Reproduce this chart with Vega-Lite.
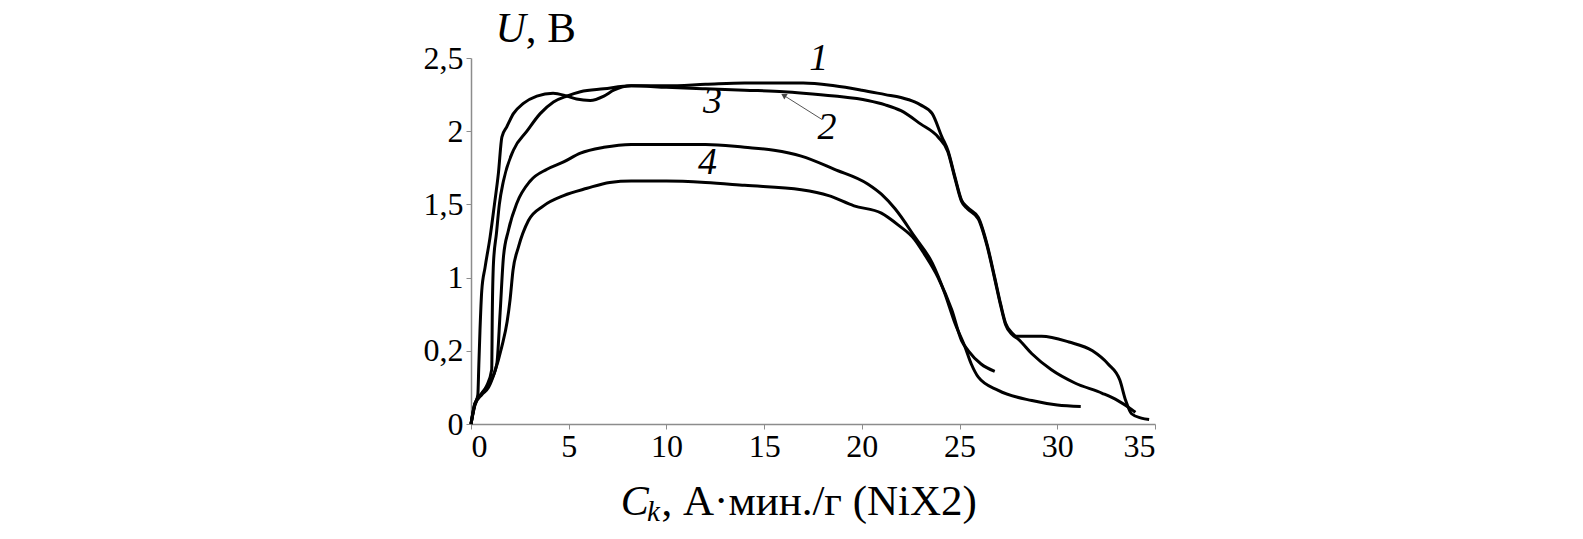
{
  "$schema": "https://vega.github.io/schema/vega-lite/v6.json",
  "autosize": "none",
  "width": 684,
  "height": 366,
  "padding": {"left": 471, "top": 58, "right": 428, "bottom": 115},
  "background": "white",
  "config": {"view": {"stroke": null}, "font": "Liberation Serif"},
  "datasets": {
    "curves": [
      {"c":"1","x":0,"y":0},{"c":"1","x":0.2,"y":0.13},{"c":"1","x":0.35,"y":0.2},{"c":"1","x":0.4,"y":0.4},{"c":"1","x":0.46,"y":0.64},{"c":"1","x":0.55,"y":0.91},{"c":"1","x":0.72,"y":1.07},{"c":"1","x":0.98,"y":1.28},{"c":"1","x":1.2,"y":1.5},{"c":"1","x":1.4,"y":1.71},{"c":"1","x":1.58,"y":1.96},{"c":"1","x":1.83,"y":2.03},{"c":"1","x":2.17,"y":2.12},{"c":"1","x":2.68,"y":2.19},{"c":"1","x":3.37,"y":2.24},{"c":"1","x":4.2,"y":2.26},{"c":"1","x":4.9,"y":2.24},{"c":"1","x":5.4,"y":2.22},{"c":"1","x":6.1,"y":2.21},{"c":"1","x":6.8,"y":2.24},{"c":"1","x":7.3,"y":2.28},{"c":"1","x":8.2,"y":2.31},{"c":"1","x":10,"y":2.31},{"c":"1","x":12,"y":2.32},{"c":"1","x":14,"y":2.33},{"c":"1","x":17,"y":2.33},{"c":"1","x":18.6,"y":2.31},{"c":"1","x":20,"y":2.28},{"c":"1","x":21.2,"y":2.25},{"c":"1","x":22,"y":2.23},{"c":"1","x":22.7,"y":2.2},{"c":"1","x":23.0,"y":2.18},{"c":"1","x":23.6,"y":2.12},{"c":"1","x":24.1,"y":1.96},{"c":"1","x":24.4,"y":1.87},{"c":"1","x":24.76,"y":1.69},{"c":"1","x":25.1,"y":1.53},{"c":"1","x":25.4,"y":1.48},{"c":"1","x":25.96,"y":1.41},{"c":"1","x":26.4,"y":1.23},{"c":"1","x":26.8,"y":1.0},{"c":"1","x":27.1,"y":0.82},{"c":"1","x":27.35,"y":0.69},{"c":"1","x":27.7,"y":0.62},{"c":"1","x":27.9,"y":0.6},{"c":"1","x":29.2,"y":0.6},{"c":"1","x":30.6,"y":0.56},{"c":"1","x":31.8,"y":0.5},{"c":"1","x":32.6,"y":0.41},{"c":"1","x":33.2,"y":0.3},{"c":"1","x":33.5,"y":0.16},{"c":"1","x":33.8,"y":0.07},{"c":"1","x":34.3,"y":0.04},{"c":"1","x":34.7,"y":0.03},
      {"c":"2","x":0,"y":0},{"c":"2","x":0.2,"y":0.14},{"c":"2","x":0.5,"y":0.2},{"c":"2","x":0.8,"y":0.26},{"c":"2","x":1.06,"y":0.37},{"c":"2","x":1.09,"y":0.76},{"c":"2","x":1.15,"y":1.1},{"c":"2","x":1.3,"y":1.3},{"c":"2","x":1.45,"y":1.5},{"c":"2","x":1.66,"y":1.66},{"c":"2","x":2.17,"y":1.87},{"c":"2","x":2.86,"y":2.0},{"c":"2","x":3.54,"y":2.12},{"c":"2","x":4.22,"y":2.2},{"c":"2","x":4.9,"y":2.24},{"c":"2","x":5.6,"y":2.27},{"c":"2","x":6.8,"y":2.29},{"c":"2","x":8.2,"y":2.31},{"c":"2","x":10,"y":2.3},{"c":"2","x":12,"y":2.29},{"c":"2","x":14,"y":2.28},{"c":"2","x":16,"y":2.27},{"c":"2","x":17,"y":2.26},{"c":"2","x":18.6,"y":2.24},{"c":"2","x":20.3,"y":2.21},{"c":"2","x":21.2,"y":2.18},{"c":"2","x":22,"y":2.14},{"c":"2","x":23,"y":2.05},{"c":"2","x":23.9,"y":1.96},{"c":"2","x":24.4,"y":1.86},{"c":"2","x":24.76,"y":1.68},{"c":"2","x":25.1,"y":1.52},{"c":"2","x":25.4,"y":1.47},{"c":"2","x":25.96,"y":1.4},{"c":"2","x":26.4,"y":1.22},{"c":"2","x":26.8,"y":0.99},{"c":"2","x":27.1,"y":0.81},{"c":"2","x":27.35,"y":0.68},{"c":"2","x":27.7,"y":0.61},{"c":"2","x":28.0,"y":0.58},{"c":"2","x":28.7,"y":0.48},{"c":"2","x":29.7,"y":0.37},{"c":"2","x":30.9,"y":0.28},{"c":"2","x":32.3,"y":0.21},{"c":"2","x":33.1,"y":0.16},{"c":"2","x":33.8,"y":0.1},{"c":"2","x":34.0,"y":0.08},
      {"c":"3","x":0,"y":0},{"c":"3","x":0.2,"y":0.14},{"c":"3","x":0.55,"y":0.21},{"c":"3","x":0.9,"y":0.27},{"c":"3","x":1.32,"y":0.41},{"c":"3","x":1.49,"y":0.76},{"c":"3","x":1.66,"y":1.14},{"c":"3","x":1.91,"y":1.32},{"c":"3","x":2.35,"y":1.51},{"c":"3","x":3.03,"y":1.66},{"c":"3","x":3.89,"y":1.74},{"c":"3","x":4.74,"y":1.79},{"c":"3","x":5.6,"y":1.85},{"c":"3","x":6.8,"y":1.89},{"c":"3","x":8.2,"y":1.91},{"c":"3","x":10,"y":1.91},{"c":"3","x":12,"y":1.91},{"c":"3","x":14,"y":1.89},{"c":"3","x":15.5,"y":1.87},{"c":"3","x":16.9,"y":1.83},{"c":"3","x":18.6,"y":1.74},{"c":"3","x":20.3,"y":1.64},{"c":"3","x":21.0,"y":1.57},{"c":"3","x":21.7,"y":1.47},{"c":"3","x":22.7,"y":1.28},{"c":"3","x":23.6,"y":1.1},{"c":"3","x":24.25,"y":0.89},{"c":"3","x":24.76,"y":0.69},{"c":"3","x":25.27,"y":0.53},{"c":"3","x":25.6,"y":0.41},{"c":"3","x":25.96,"y":0.32},{"c":"3","x":26.98,"y":0.23},{"c":"3","x":28.7,"y":0.16},{"c":"3","x":30,"y":0.13},{"c":"3","x":31.2,"y":0.12},
      {"c":"4","x":0,"y":0},{"c":"4","x":0.2,"y":0.13},{"c":"4","x":0.55,"y":0.2},{"c":"4","x":0.9,"y":0.25},{"c":"4","x":1.2,"y":0.35},{"c":"4","x":1.58,"y":0.53},{"c":"4","x":1.85,"y":0.7},{"c":"4","x":2.0,"y":0.85},{"c":"4","x":2.15,"y":1.05},{"c":"4","x":2.43,"y":1.21},{"c":"4","x":2.94,"y":1.39},{"c":"4","x":3.71,"y":1.49},{"c":"4","x":4.74,"y":1.56},{"c":"4","x":5.94,"y":1.61},{"c":"4","x":7.1,"y":1.65},{"c":"4","x":8.2,"y":1.66},{"c":"4","x":10,"y":1.66},{"c":"4","x":12,"y":1.65},{"c":"4","x":14,"y":1.63},{"c":"4","x":16.9,"y":1.6},{"c":"4","x":18.3,"y":1.56},{"c":"4","x":19.6,"y":1.49},{"c":"4","x":21.0,"y":1.44},{"c":"4","x":21.85,"y":1.36},{"c":"4","x":22.7,"y":1.26},{"c":"4","x":23.2,"y":1.16},{"c":"4","x":23.9,"y":1.0},{"c":"4","x":24.6,"y":0.78},{"c":"4","x":25.1,"y":0.57},{"c":"4","x":25.45,"y":0.5},{"c":"4","x":26.1,"y":0.41},{"c":"4","x":26.8,"y":0.36}
    ],
    "italicLabels": [
      {"t":"1","x":17.8,"y":2.49},
      {"t":"2","x":18.22,"y":2.02},
      {"t":"3","x":12.36,"y":2.2},
      {"t":"4","x":12.1,"y":1.78}
    ],
    "titleItalic": [
      {"t":"U","x":2.8,"y":2.7},
      {"t":"C","x":9.1,"y":-0.53}
    ],
    "titleUpright": [
      {"t":", В","x":2.8,"y":2.7},
      {"t":", А·мин./г (NiX2)","x":9.75,"y":-0.53}
    ],
    "titleSub": [
      {"t":"k","x":9.0,"y":-0.6}
    ],
    "arrow": [
      {"x":17.96,"y":2.08,"x2":16.0,"y2":2.245}
    ]
  },
  "layer": [
    {
      "data": {"name": "curves"},
      "mark": {"type": "line", "color": "black", "strokeWidth": 3, "clip": false, "interpolate": "monotone"},
      "encoding": {
        "x": {"field": "x", "type": "quantitative", "scale": {"domain": [0, 35], "nice": false},
          "axis": {"values": [0,5,10,15,20,25,30,35], "title": null, "grid": false, "domainColor": "#8c8c8c", "tickColor": "#8c8c8c", "tickSize": 5, "labelFontSize": 32, "labelColor": "black", "labelFont": "Liberation Serif", "labelPadding": 2, "domainWidth": 1.5}},
        "y": {"field": "y", "type": "quantitative", "scale": {"domain": [0, 2.5], "nice": false},
          "axis": {"values": [0,0.5,1,1.5,2,2.5], "title": null, "grid": false, "domainColor": "#8c8c8c", "tickColor": "#8c8c8c", "tickSize": 5, "labelFontSize": 32, "labelColor": "black", "labelFont": "Liberation Serif", "labelPadding": 3, "domainWidth": 1.5,
            "labelExpr": "datum.value == 0.5 ? '0,2' : replace(toString(datum.value), '.', ',')"}},
        "detail": {"field": "c"},
        "order": {"value": null}
      }
    },
    {
      "data": {"name": "arrow"},
      "mark": {"type": "rule", "color": "#555", "strokeWidth": 1},
      "encoding": {
        "x": {"field": "x", "type": "quantitative"},
        "y": {"field": "y", "type": "quantitative"},
        "x2": {"field": "x2"},
        "y2": {"field": "y2"}
      }
    },
    {
      "data": {"name": "arrow"},
      "mark": {"type": "point", "shape": "triangle-up", "angle": 302, "size": 40, "filled": true, "color": "#444", "opacity": 1},
      "encoding": {
        "x": {"field": "x2", "type": "quantitative"},
        "y": {"field": "y2", "type": "quantitative"}
      }
    },
    {
      "data": {"name": "italicLabels"},
      "mark": {"type": "text", "font": "Liberation Serif", "fontStyle": "italic", "fontSize": 38, "color": "black", "baseline": "middle", "align": "center"},
      "encoding": {
        "x": {"field": "x", "type": "quantitative"},
        "y": {"field": "y", "type": "quantitative"},
        "text": {"field": "t"}
      }
    },
    {
      "data": {"name": "titleItalic"},
      "mark": {"type": "text", "font": "Liberation Serif", "fontStyle": "italic", "fontSize": 42, "color": "black", "baseline": "middle", "align": "right", "clip": false},
      "encoding": {
        "x": {"field": "x", "type": "quantitative"},
        "y": {"field": "y", "type": "quantitative"},
        "text": {"field": "t"}
      }
    },
    {
      "data": {"name": "titleUpright"},
      "mark": {"type": "text", "font": "Liberation Serif", "fontSize": 43, "color": "black", "baseline": "middle", "align": "left", "clip": false},
      "encoding": {
        "x": {"field": "x", "type": "quantitative"},
        "y": {"field": "y", "type": "quantitative"},
        "text": {"field": "t"}
      }
    },
    {
      "data": {"name": "titleSub"},
      "mark": {"type": "text", "font": "Liberation Serif", "fontStyle": "italic", "fontSize": 29, "color": "black", "baseline": "middle", "align": "left", "clip": false},
      "encoding": {
        "x": {"field": "x", "type": "quantitative"},
        "y": {"field": "y", "type": "quantitative"},
        "text": {"field": "t"}
      }
    }
  ]
}
